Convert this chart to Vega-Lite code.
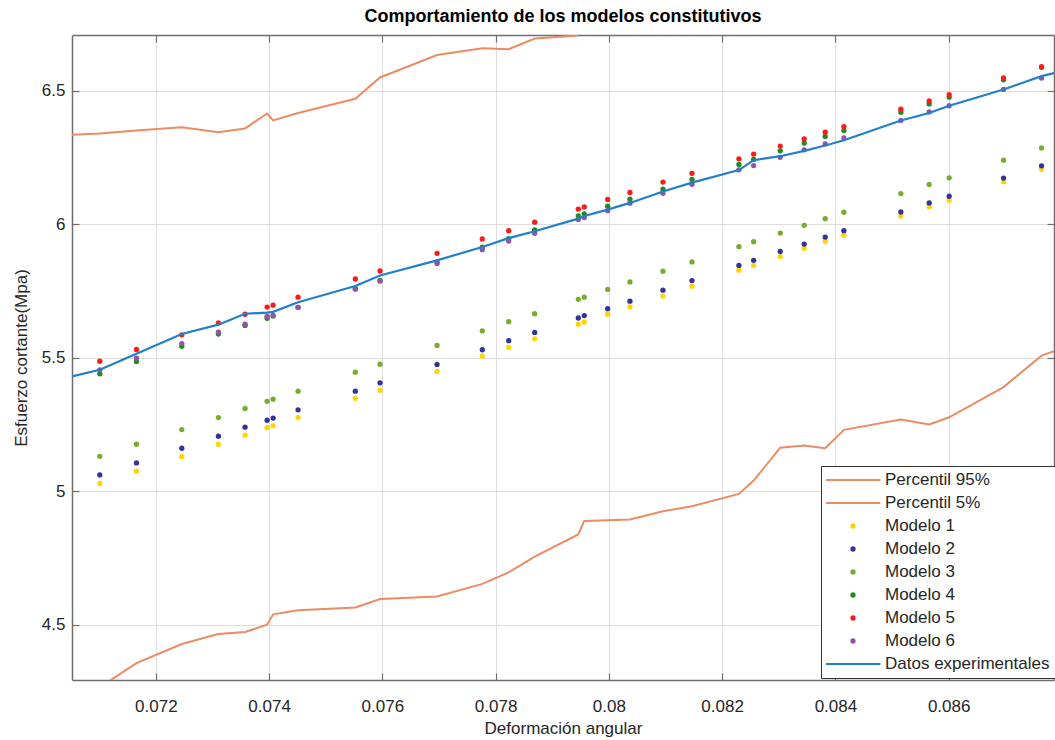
{
  "$schema": "https://vega.github.io/schema/vega-lite/v6.json",
  "width": 982,
  "height": 645,
  "autosize": {"type": "none"},
  "padding": {"left": 72, "top": 35, "right": 1, "bottom": 60},
  "background": "white",
  "title": {
    "text": "Comportamiento de los modelos constitutivos",
    "font": "Liberation Sans",
    "fontSize": 18,
    "fontWeight": "bold",
    "color": "#000000",
    "anchor": "middle",
    "offset": 8
  },
  "config": {
    "view": {"stroke": null},
    "font": "Liberation Sans",
    "axis": {
      "domainColor": "#6e6e6e",
      "domainWidth": 1.5,
      "tickColor": "#6e6e6e",
      "tickSize": -7,
      "tickWidth": 1.2,
      "gridColor": "#dedede",
      "gridWidth": 1,
      "labelFont": "Liberation Sans",
      "labelFontSize": 17,
      "labelColor": "#262626",
      "titleFont": "Liberation Sans",
      "titleFontSize": 17,
      "titleFontWeight": "normal",
      "titleColor": "#262626"
    }
  },
  "data": {
    "values": [
      {"x": 0.07052, "Percentil 95%": 6.335, "Datos experimentales": 5.430},
      {"x": 0.071011, "Modelo 1": 5.029, "Modelo 2": 5.061, "Modelo 3": 5.131, "Modelo 4": 5.440, "Modelo 5": 5.487, "Modelo 6": 5.455, "Datos experimentales": 5.455, "Percentil 95%": 6.340, "Percentil 5%": 4.266},
      {"x": 0.071658, "Modelo 1": 5.075, "Modelo 2": 5.106, "Modelo 3": 5.176, "Modelo 4": 5.486, "Modelo 5": 5.531, "Modelo 6": 5.499, "Datos experimentales": 5.515, "Percentil 95%": 6.351, "Percentil 5%": 4.356},
      {"x": 0.072459, "Modelo 1": 5.130, "Modelo 2": 5.161, "Modelo 3": 5.231, "Modelo 4": 5.543, "Modelo 5": 5.586, "Modelo 6": 5.553, "Datos experimentales": 5.589, "Percentil 95%": 6.363, "Percentil 5%": 4.428},
      {"x": 0.073105, "Modelo 1": 5.176, "Modelo 2": 5.206, "Modelo 3": 5.276, "Modelo 4": 5.589, "Modelo 5": 5.631, "Modelo 6": 5.596, "Datos experimentales": 5.624, "Percentil 95%": 6.345, "Percentil 5%": 4.465},
      {"x": 0.073576, "Modelo 1": 5.210, "Modelo 2": 5.240, "Modelo 3": 5.310, "Modelo 4": 5.621, "Modelo 5": 5.663, "Modelo 6": 5.626, "Datos experimentales": 5.665, "Percentil 95%": 6.359, "Percentil 5%": 4.473},
      {"x": 0.073965, "Modelo 1": 5.238, "Modelo 2": 5.266, "Modelo 3": 5.337, "Modelo 4": 5.648, "Modelo 5": 5.690, "Modelo 6": 5.655, "Datos experimentales": 5.669, "Percentil 95%": 6.415, "Percentil 5%": 4.500},
      {"x": 0.074071, "Modelo 1": 5.245, "Modelo 2": 5.274, "Modelo 3": 5.345, "Modelo 4": 5.656, "Modelo 5": 5.697, "Modelo 6": 5.659, "Datos experimentales": 5.672, "Percentil 95%": 6.389, "Percentil 5%": 4.539},
      {"x": 0.074512, "Modelo 1": 5.276, "Modelo 2": 5.305, "Modelo 3": 5.375, "Modelo 4": 5.689, "Modelo 5": 5.727, "Modelo 6": 5.689, "Datos experimentales": 5.708, "Percentil 95%": 6.417, "Percentil 5%": 4.554},
      {"x": 0.075523, "Modelo 1": 5.348, "Modelo 2": 5.375, "Modelo 3": 5.446, "Modelo 4": 5.760, "Modelo 5": 5.795, "Modelo 6": 5.757, "Datos experimentales": 5.769, "Percentil 95%": 6.470, "Percentil 5%": 4.565},
      {"x": 0.075959, "Modelo 1": 5.378, "Modelo 2": 5.406, "Modelo 3": 5.476, "Modelo 4": 5.790, "Modelo 5": 5.825, "Modelo 6": 5.787, "Datos experimentales": 5.808, "Percentil 95%": 6.550, "Percentil 5%": 4.596},
      {"x": 0.076966, "Modelo 1": 5.449, "Modelo 2": 5.475, "Modelo 3": 5.546, "Modelo 4": 5.859, "Modelo 5": 5.891, "Modelo 6": 5.853, "Datos experimentales": 5.865, "Percentil 95%": 6.634, "Percentil 5%": 4.606},
      {"x": 0.077765, "Modelo 1": 5.506, "Modelo 2": 5.530, "Modelo 3": 5.601, "Modelo 4": 5.914, "Modelo 5": 5.945, "Modelo 6": 5.905, "Datos experimentales": 5.915, "Percentil 95%": 6.659, "Percentil 5%": 4.653},
      {"x": 0.078231, "Modelo 1": 5.539, "Modelo 2": 5.564, "Modelo 3": 5.635, "Modelo 4": 5.946, "Modelo 5": 5.976, "Modelo 6": 5.937, "Datos experimentales": 5.948, "Percentil 95%": 6.656, "Percentil 5%": 4.696},
      {"x": 0.078690, "Modelo 1": 5.571, "Modelo 2": 5.595, "Modelo 3": 5.665, "Modelo 4": 5.979, "Modelo 5": 6.008, "Modelo 6": 5.966, "Datos experimentales": 5.974, "Percentil 95%": 6.696, "Percentil 5%": 4.755},
      {"x": 0.079460, "Modelo 1": 5.626, "Modelo 2": 5.649, "Modelo 3": 5.719, "Modelo 4": 6.031, "Modelo 5": 6.057, "Modelo 6": 6.018, "Datos experimentales": 6.021, "Percentil 95%": 6.707, "Percentil 5%": 4.838},
      {"x": 0.079566, "Modelo 1": 5.634, "Modelo 2": 5.658, "Modelo 3": 5.727, "Modelo 4": 6.039, "Modelo 5": 6.065, "Modelo 6": 6.025, "Datos experimentales": 6.031, "Percentil 5%": 4.889},
      {"x": 0.079979, "Modelo 1": 5.663, "Modelo 2": 5.684, "Modelo 3": 5.756, "Modelo 4": 6.068, "Modelo 5": 6.093, "Modelo 6": 6.051, "Datos experimentales": 6.055, "Percentil 5%": 4.891},
      {"x": 0.080372, "Modelo 1": 5.691, "Modelo 2": 5.712, "Modelo 3": 5.784, "Modelo 4": 6.094, "Modelo 5": 6.119, "Modelo 6": 6.079, "Datos experimentales": 6.080, "Percentil 5%": 4.894},
      {"x": 0.080955, "Modelo 1": 5.731, "Modelo 2": 5.753, "Modelo 3": 5.824, "Modelo 4": 6.132, "Modelo 5": 6.158, "Modelo 6": 6.116, "Datos experimentales": 6.123, "Percentil 5%": 4.925},
      {"x": 0.081467, "Modelo 1": 5.768, "Modelo 2": 5.789, "Modelo 3": 5.859, "Modelo 4": 6.168, "Modelo 5": 6.191, "Modelo 6": 6.150, "Datos experimentales": 6.156, "Percentil 5%": 4.944},
      {"x": 0.082296, "Modelo 1": 5.828, "Modelo 2": 5.846, "Modelo 3": 5.916, "Modelo 4": 6.224, "Modelo 5": 6.245, "Modelo 6": 6.204, "Datos experimentales": 6.203, "Percentil 5%": 4.990},
      {"x": 0.082556, "Modelo 1": 5.846, "Modelo 2": 5.865, "Modelo 3": 5.935, "Modelo 4": 6.243, "Modelo 5": 6.263, "Modelo 6": 6.220, "Datos experimentales": 6.240, "Percentil 5%": 5.040},
      {"x": 0.083026, "Modelo 1": 5.879, "Modelo 2": 5.898, "Modelo 3": 5.967, "Modelo 4": 6.275, "Modelo 5": 6.293, "Modelo 6": 6.251, "Datos experimentales": 6.255, "Percentil 5%": 5.163},
      {"x": 0.083449, "Modelo 1": 5.910, "Modelo 2": 5.926, "Modelo 3": 5.996, "Modelo 4": 6.304, "Modelo 5": 6.320, "Modelo 6": 6.279, "Datos experimentales": 6.275, "Percentil 5%": 5.171},
      {"x": 0.083820, "Modelo 1": 5.936, "Modelo 2": 5.952, "Modelo 3": 6.021, "Modelo 4": 6.329, "Modelo 5": 6.345, "Modelo 6": 6.301, "Datos experimentales": 6.295, "Percentil 5%": 5.161},
      {"x": 0.084150, "Modelo 1": 5.959, "Modelo 2": 5.976, "Modelo 3": 6.045, "Modelo 4": 6.351, "Modelo 5": 6.366, "Modelo 6": 6.324, "Datos experimentales": 6.315, "Percentil 5%": 5.230},
      {"x": 0.085156, "Modelo 1": 6.031, "Modelo 2": 6.046, "Modelo 3": 6.115, "Modelo 4": 6.420, "Modelo 5": 6.431, "Modelo 6": 6.389, "Datos experimentales": 6.389, "Percentil 5%": 5.269},
      {"x": 0.085656, "Modelo 1": 6.066, "Modelo 2": 6.080, "Modelo 3": 6.149, "Modelo 4": 6.451, "Modelo 5": 6.462, "Modelo 6": 6.421, "Datos experimentales": 6.417, "Percentil 5%": 5.250},
      {"x": 0.086009, "Modelo 1": 6.090, "Modelo 2": 6.105, "Modelo 3": 6.174, "Modelo 4": 6.476, "Modelo 5": 6.486, "Modelo 6": 6.444, "Datos experimentales": 6.444, "Percentil 5%": 5.277},
      {"x": 0.086969, "Modelo 1": 6.159, "Modelo 2": 6.173, "Modelo 3": 6.240, "Modelo 4": 6.541, "Modelo 5": 6.548, "Modelo 6": 6.505, "Datos experimentales": 6.505, "Percentil 5%": 5.390},
      {"x": 0.087640, "Modelo 1": 6.206, "Modelo 2": 6.219, "Modelo 3": 6.286, "Modelo 4": 6.588, "Modelo 5": 6.590, "Modelo 6": 6.548, "Datos experimentales": 6.555, "Percentil 5%": 5.508},
      {"x": 0.08786, "Datos experimentales": 6.566, "Percentil 5%": 5.525}
    ]
  },
  "transform": [
    {"fold": ["Percentil 95%", "Percentil 5%", "Modelo 1", "Modelo 2", "Modelo 3", "Modelo 4", "Modelo 5", "Modelo 6", "Datos experimentales"], "as": ["serie", "valor"]},
    {"filter": "datum.valor != null"}
  ],
  "layer": [
    {
      "transform": [{"filter": "indexof(['Percentil 95%', 'Percentil 5%'], datum.serie) >= 0"}],
      "mark": {"type": "line", "clip": true, "strokeWidth": 2},
      "encoding": {
        "x": {
          "field": "x", "type": "quantitative",
          "scale": {"domain": [0.07052, 0.08786], "nice": false, "zero": false},
          "axis": {"orient": "bottom", "values": [0.072, 0.074, 0.076, 0.078, 0.08, 0.082, 0.084, 0.086], "format": "~g", "grid": true, "title": "Deformación angular", "labelPadding": 25, "titlePadding": 6}
        },
        "y": {
          "field": "valor", "type": "quantitative",
          "scale": {"domain": [4.293, 6.709], "nice": false, "zero": false},
          "axis": {"orient": "left", "values": [4.5, 5, 5.5, 6, 6.5], "format": "~g", "grid": true, "title": "Esfuerzo cortante(Mpa)", "labelPadding": 14, "titlePadding": 11}
        },
        "color": {
          "field": "serie", "type": "nominal",
          "scale": {
            "domain": ["Percentil 95%", "Percentil 5%", "Modelo 1", "Modelo 2", "Modelo 3", "Modelo 4", "Modelo 5", "Modelo 6", "Datos experimentales"],
            "range": ["#EC8B65", "#EC8B65", "#FFD500", "#333399", "#77AC30", "#1E8C1E", "#FF1A1A", "#9452A8", "#1F80CC"]
          },
          "legend": {
            "orient": "none",
            "legendX": 749,
            "legendY": 431,
            "title": null,
            "fillColor": "white",
            "strokeColor": "#333333",
            "padding": 5,
            "symbolSize": 3000,
            "clipHeight": 18,
            "rowPadding": 5,
            "symbolOffset": 18.5,
            "labelOffset": 23.5,
            "labelFont": "Liberation Sans",
            "labelFontSize": 17,
            "labelColor": "#262626",
            "labelLimit": 300,
            "symbolStrokeWidth": 2,
            "encode": {
              "symbols": {
                "update": {
                  "shape": {"signal": "indexof(['Percentil 95%', 'Percentil 5%', 'Datos experimentales'], datum.value) >= 0 ? 'stroke' : 'circle'"},
                  "size": {"signal": "indexof(['Percentil 95%', 'Percentil 5%', 'Datos experimentales'], datum.value) >= 0 ? 3000 : 28"},
                  "strokeWidth": {"signal": "indexof(['Percentil 95%', 'Percentil 5%', 'Datos experimentales'], datum.value) >= 0 ? 2 : 0"},
                  "fill": {"scale": "color", "field": "value"},
                  "stroke": {"scale": "color", "field": "value"},
                  "opacity": {"value": 1}
                }
              }
            }
          }
        },
        "detail": {"field": "serie"}
      }
    },
    {
      "transform": [{"filter": "indexof(datum.serie, 'Modelo') == 0"}],
      "mark": {"type": "point", "filled": true, "size": 28, "opacity": 1},
      "encoding": {
        "x": {
          "field": "x", "type": "quantitative",
          "axis": {"orient": "top", "values": [0.072, 0.074, 0.076, 0.078, 0.08, 0.082, 0.084, 0.086], "labels": false, "grid": false, "title": null}
        },
        "y": {
          "field": "valor", "type": "quantitative",
          "axis": {"orient": "right", "values": [4.5, 5, 5.5, 6, 6.5], "labels": false, "grid": false, "title": null}
        },
        "color": {"field": "serie", "type": "nominal"}
      }
    },
    {
      "transform": [{"filter": "datum.serie == 'Datos experimentales'"}],
      "mark": {"type": "line", "clip": true, "strokeWidth": 2.2},
      "encoding": {
        "x": {"field": "x", "type": "quantitative", "axis": null},
        "y": {"field": "valor", "type": "quantitative", "axis": null},
        "color": {"field": "serie", "type": "nominal"}
      }
    }
  ],
  "resolve": {"axis": {"x": "independent", "y": "independent"}}
}
